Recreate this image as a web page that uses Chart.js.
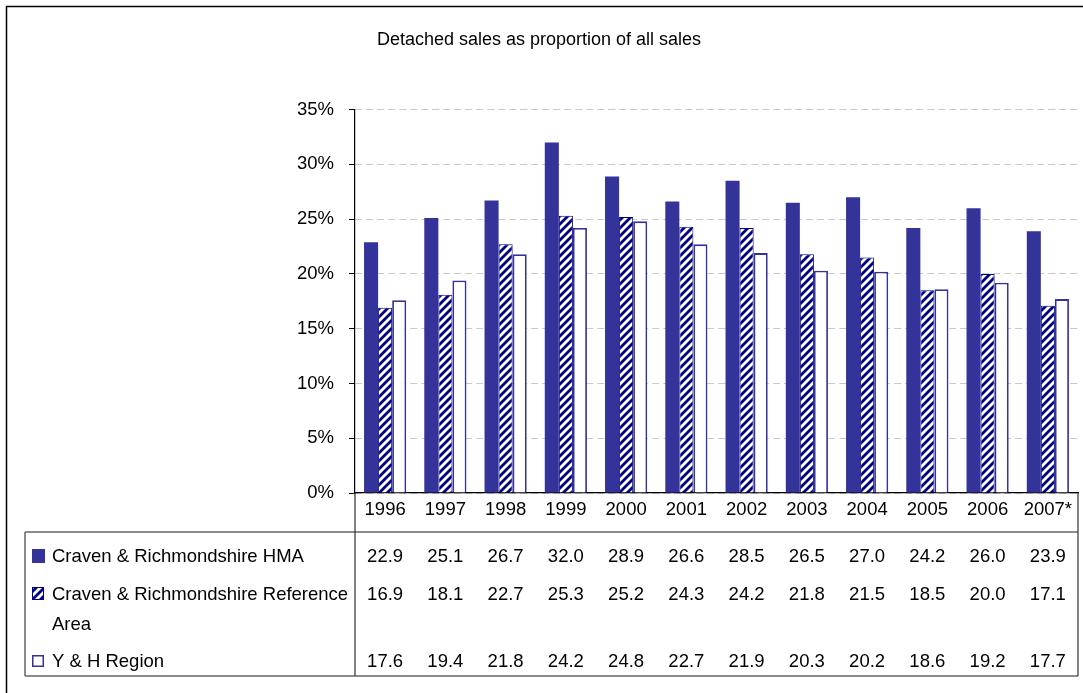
<!DOCTYPE html>
<html>
<head>
<meta charset="utf-8">
<script src="https://cdn.jsdelivr.net/npm/chart.js@4.4.1/dist/chart.umd.min.js"></script>
<style>
html,body{margin:0;padding:0;background:#fff;}
#wrap{width:1083px;height:693px;}
</style>
</head>
<body>
<div id="wrap"><canvas id="c" width="1083" height="693"></canvas></div>
<script>
const title = 'Detached sales as proportion of all sales';
const categories = ['1996','1997','1998','1999','2000','2001','2002','2003','2004','2005','2006','2007*'];
const seriesNames = ['Craven & Richmondshire HMA', 'Craven & Richmondshire Reference', 'Y & H Region'];
const seriesNameLine2 = ['', 'Area', ''];
const hmaValues = [22.9,25.1,26.7,32.0,28.9,26.6,28.5,26.5,27.0,24.2,26.0,23.9];
const refValues = [16.9,18.1,22.7,25.3,25.2,24.3,24.2,21.8,21.5,18.5,20.0,17.1];
const yhValues  = [17.6,19.4,21.8,24.2,24.8,22.7,21.9,20.3,20.2,18.6,19.2,17.7];
const yTickMin = 0, yTickMax = 35, yTickStep = 5;

const canvas = document.getElementById('c');
const ctx0 = canvas.getContext('2d');

// detect a narrow sans font
function hasFont(name){
  const s = 'Craven & Richmondshire 0123456789';
  ctx0.font = '40px monospace'; const a = ctx0.measureText(s).width;
  ctx0.font = '40px "' + name + '", monospace'; const b = ctx0.measureText(s).width;
  return Math.abs(a - b) > 1;
}
const narrow = hasFont('Liberation Sans Narrow');
const FONT = narrow ? '"Liberation Sans Narrow", "Liberation Sans", Arial, sans-serif' : '"Liberation Sans", Arial, sans-serif';
const FS = narrow ? 22 : 18.5;
const TFS = narrow ? 22 : 18;
Chart.defaults.font.family = FONT;
Chart.defaults.color = '#000';

function makeHatch(ctx){
  const c = document.createElement('canvas'); c.width = 8; c.height = 8;
  const g = c.getContext('2d');
  g.fillStyle = '#fff'; g.fillRect(0,0,8,8);
  g.strokeStyle = '#000080'; g.lineWidth = 2.8;
  g.beginPath();
  g.moveTo(-2,10); g.lineTo(10,-2);
  g.moveTo(-6,6); g.lineTo(6,-6);
  g.moveTo(2,14); g.lineTo(14,2);
  g.stroke();
  return ctx.createPattern(c,'repeat');
}
const hatch = makeHatch(ctx0);

const datasets = [
  {label: seriesNames[0], data: hmaValues, backgroundColor: '#333399', borderColor: '#333399', borderWidth: 0},
  {label: seriesNames[1], data: refValues, backgroundColor: hatch, borderColor: '#000080', borderWidth: 1},
  {label: seriesNames[2], data: yhValues, backgroundColor: '#ffffff', borderColor: '#333399', borderWidth: 1.8}
];

const tablePlugin = {
  id: 'tablePlugin',
  afterDraw(chart){
    const ctx = chart.ctx;
    const ca = chart.chartArea;
    const xs = chart.scales.x;
    const tableTop = 532, tableBottom = 676, tableLeft = 25, tableRight = ca.right;
    ctx.save();
    ctx.strokeStyle = '#000'; ctx.lineWidth = 1.5;
    ctx.strokeRect(6.5, 6.5, 1100, 700);
    ctx.strokeStyle = '#666'; ctx.lineWidth = 1.5;
    ctx.beginPath();
    ctx.moveTo(tableLeft, tableTop); ctx.lineTo(tableRight, tableTop);
    ctx.moveTo(tableLeft, tableBottom); ctx.lineTo(tableRight, tableBottom);
    ctx.moveTo(tableLeft, tableTop); ctx.lineTo(tableLeft, tableBottom);
    ctx.stroke();
    ctx.strokeStyle = '#333'; ctx.lineWidth = 1.2;
    ctx.beginPath();
    ctx.moveTo(ca.left, ca.bottom); ctx.lineTo(ca.left, tableBottom);
    ctx.moveTo(tableRight, ca.bottom); ctx.lineTo(tableRight, tableBottom);
    ctx.stroke();
    const baselines = [562, 600, 667];
    const keyTops = [549, 587, 655];
    ctx.font = FS + 'px ' + FONT;
    ctx.fillStyle = '#000';
    ctx.textBaseline = 'alphabetic';
    const all = [hmaValues, refValues, yhValues];
    for (let s = 0; s < 3; s++){
      const ky = keyTops[s];
      if (s === 0){ ctx.fillStyle = '#333399'; ctx.fillRect(32, ky, 13, 14); }
      else if (s === 1){ ctx.fillStyle = hatch; ctx.fillRect(32, ky, 12, 13); ctx.strokeStyle = '#000080'; ctx.lineWidth = 1; ctx.strokeRect(32.5, ky+0.5, 11, 12); }
      else { ctx.fillStyle = '#fff'; ctx.fillRect(32, ky, 12, 12); ctx.strokeStyle = '#333399'; ctx.lineWidth = 1.5; ctx.strokeRect(32.75, ky+0.75, 10.5, 10.5); }
      ctx.fillStyle = '#000';
      ctx.textAlign = 'left';
      ctx.fillText(seriesNames[s], 52, baselines[s]);
      if (seriesNameLine2[s]) ctx.fillText(seriesNameLine2[s], 52, 630);
      ctx.textAlign = 'center';
      all[s].forEach((v, i) => {
        ctx.fillText(v.toFixed(1), xs.getPixelForValue(i), baselines[s]);
      });
    }
    ctx.restore();
  }
};

new Chart(canvas, {
  type: 'bar',
  data: {labels: categories, datasets},
  options: {
    responsive: false,
    animation: false,
    devicePixelRatio: 1,
    layout: {padding: {left: 0, right: 5, top: 0, bottom: 161}},
    plugins: {
      legend: {display: false},
      tooltip: {enabled: false},
      title: {display: true, text: title, color: '#000', font: {size: TFS, weight: 'normal', family: FONT}, padding: {top: 29 - (TFS - 18) * 0.6, bottom: 59 - (TFS - 18) * 0.6}}
    },
    datasets: {bar: {categoryPercentage: 0.7, barPercentage: 1}},
    scales: {
      x: {
        grid: {display: false, drawTicks: false},
        border: {display: true, color: '#000', width: 1.2},
        ticks: {font: {size: FS}, color: '#000', padding: narrow ? 4 : 6, maxRotation: 0, autoSkip: false},
        afterFit(scale){ scale.height = 39; }
      },
      y: {
        min: yTickMin, max: yTickMax,
        grid: {color: '#c8c8c8', lineWidth: 1, drawTicks: true, tickLength: 6, tickColor: '#000', tickWidth: 1, tickBorderDash: []},
        border: {display: true, color: '#000', width: 1.2, dash: [7,4]},
        ticks: {stepSize: yTickStep, font: {size: FS}, color: '#000', padding: 15, callback: v => v + '%'},
        afterFit(scale){ scale.width = 355; }
      }
    }
  },
  plugins: [tablePlugin]
});
</script>
</body>
</html>
